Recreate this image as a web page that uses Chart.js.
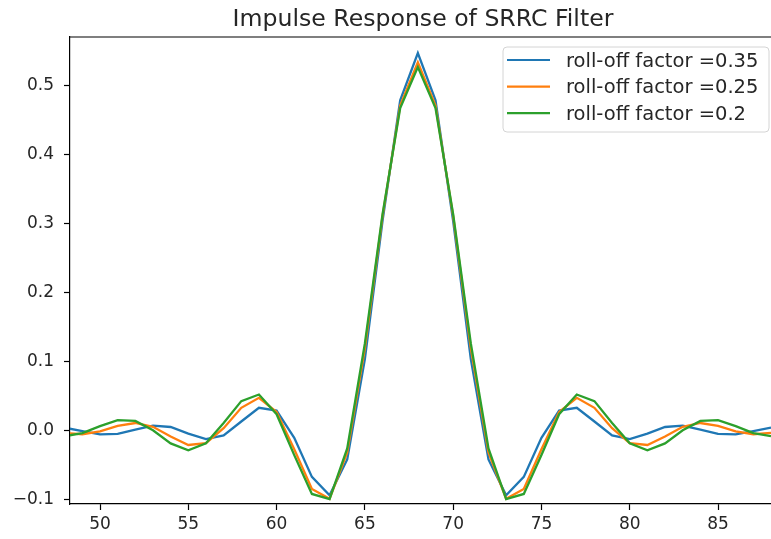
<!DOCTYPE html>
<html>
<head>
<meta charset="utf-8">
<script src="https://cdn.jsdelivr.net/npm/chart.js@4/dist/chart.umd.min.js"></script>
<style>
  html, body { margin: 0; padding: 0; background: #fff; overflow: hidden; }
  #wrap { width: 771px; height: 539px; position: relative; }
</style>
</head>
<body>
<div id="wrap"><canvas id="srrc_chart"></canvas></div>
<script>
// sample index (x axis)
var samples = [48, 49, 50, 51, 52, 53, 54, 55, 56, 57, 58, 59, 60, 61, 62, 63, 64, 65, 66, 67, 68,
               69, 70, 71, 72, 73, 74, 75, 76, 77, 78, 79, 80, 81, 82, 83, 84, 85, 86, 87, 88];

var rolloff_035 = [0.0038, -0.0012, -0.0058, -0.0051, 0.0010, 0.0067, 0.0048, -0.0048, -0.0127, -0.0074,
                   0.0128, 0.0327, 0.0286, -0.0110, -0.0676, -0.0943, -0.0423, 0.1034, 0.3039, 0.4790,
                   0.5478,
                   0.4790, 0.3039, 0.1034, -0.0423, -0.0943, -0.0676, -0.0110, 0.0286, 0.0327, 0.0128,
                   -0.0074, -0.0127, -0.0048, 0.0048, 0.0067, 0.0010, -0.0051, -0.0058, -0.0012, 0.0038];

var rolloff_025 = [-0.0038, -0.0057, -0.0015, 0.0064, 0.0106, 0.0050, -0.0091, -0.0213, -0.0188, 0.0030,
                   0.0326, 0.0471, 0.0265, -0.0275, -0.0851, -0.0994, -0.0321, 0.1189, 0.3109, 0.4716,
                   0.5342,
                   0.4716, 0.3109, 0.1189, -0.0321, -0.0994, -0.0851, -0.0275, 0.0265, 0.0471, 0.0326,
                   0.0030, -0.0188, -0.0213, -0.0091, 0.0050, 0.0106, 0.0064, -0.0015, -0.0057, -0.0038];

var rolloff_020 = [-0.0085, -0.0041, 0.0061, 0.0148, 0.0137, 0.0000, -0.0190, -0.0291, -0.0189, 0.0106,
                   0.0424, 0.0520, 0.0233, -0.0360, -0.0924, -0.1000, -0.0263, 0.1261, 0.3136, 0.4678,
                   0.5273,
                   0.4678, 0.3136, 0.1261, -0.0263, -0.1000, -0.0924, -0.0360, 0.0233, 0.0520, 0.0424,
                   0.0106, -0.0189, -0.0291, -0.0190, 0.0000, 0.0137, 0.0148, 0.0061, -0.0041, -0.0085];

var series_labels = ["roll-off factor =0.35", "roll-off factor =0.25", "roll-off factor =0.2"];
var series_colors = ["#1f77b4", "#ff7f0e", "#2ca02c"];

var x_ticks = [50, 55, 60, 65, 70, 75, 80, 85];
var y_ticks = [-0.1, 0.0, 0.1, 0.2, 0.3, 0.4, 0.5];
var y_tick_labels = ["\u22120.1", "0.0", "0.1", "0.2", "0.3", "0.4", "0.5"];

var chart_title = "Impulse Response of SRRC Filter";

var FONT = "'DejaVu Sans', sans-serif";
var TEXT_COLOR = "#262626";

function to_points(values) {
    return samples.map(function (s, i) { return { x: s, y: values[i] }; });
}

// title, top spine and the boxed legend, drawn the matplotlib way
var frame_plugin = {
    id: 'frame_plugin',
    afterDraw: function (chart) {
        var ctx = chart.ctx;
        var area = chart.chartArea;
        ctx.save();

        // top spine
        ctx.strokeStyle = "#000";
        ctx.lineWidth = 1.2;
        ctx.beginPath();
        ctx.moveTo(area.left - 0.6, area.top);
        ctx.lineTo(area.right, area.top);
        ctx.stroke();

        // title centred over the axes box (right spine sits just past the window)
        ctx.fillStyle = TEXT_COLOR;
        ctx.font = "23.6px " + FONT;
        ctx.textAlign = "center";
        ctx.textBaseline = "alphabetic";
        ctx.fillText(chart_title, 423, 25.5);

        // legend box
        var bx = 503, by = 47, bw = 266, bh = 85, r = 4;
        ctx.fillStyle = "rgba(255,255,255,0.8)";
        ctx.strokeStyle = "#d4d4d4";
        ctx.lineWidth = 1;
        ctx.beginPath();
        ctx.moveTo(bx + r, by);
        ctx.lineTo(bx + bw - r, by);
        ctx.arcTo(bx + bw, by, bx + bw, by + r, r);
        ctx.lineTo(bx + bw, by + bh - r);
        ctx.arcTo(bx + bw, by + bh, bx + bw - r, by + bh, r);
        ctx.lineTo(bx + r, by + bh);
        ctx.arcTo(bx, by + bh, bx, by + bh - r, r);
        ctx.lineTo(bx, by + r);
        ctx.arcTo(bx, by, bx + r, by, r);
        ctx.closePath();
        ctx.fill();
        ctx.stroke();

        ctx.font = "19.5px " + FONT;
        ctx.textAlign = "left";
        for (var i = 0; i < series_labels.length; i++) {
            var rowY = 60 + i * 26.6;
            ctx.strokeStyle = series_colors[i];
            ctx.lineWidth = 2.2;
            ctx.beginPath();
            ctx.moveTo(507, rowY);
            ctx.lineTo(550, rowY);
            ctx.stroke();
            ctx.fillStyle = TEXT_COLOR;
            ctx.fillText(series_labels[i], 566, rowY + 6.7);
        }
        ctx.restore();
    }
};

var datasets = [rolloff_035, rolloff_025, rolloff_020].map(function (vals, i) {
    return {
        label: series_labels[i],
        data: to_points(vals),
        borderColor: series_colors[i],
        backgroundColor: series_colors[i],
        borderWidth: 2.3,
        pointRadius: 0,
        tension: 0,
        fill: false,
        order: 3 - i   // green ends up on top, as in the original
    };
});

var srrc_chart = new Chart(document.getElementById('srrc_chart'), {
    type: 'line',
    data: { datasets: datasets },
    options: {
        responsive: true,
        maintainAspectRatio: false,
        animation: false,
        events: [],
        layout: { padding: { top: 37, left: 0, right: 0, bottom: 0 } },
        plugins: {
            legend: { display: false },
            title: { display: false },
            tooltip: { enabled: false }
        },
        scales: {
            x: {
                type: 'linear',
                min: 48.3,
                max: 88,
                afterBuildTicks: function (scale) {
                    scale.ticks = x_ticks.map(function (v) { return { value: v }; });
                },
                afterFit: function (scale) { scale.height = 35; },
                ticks: {
                    color: TEXT_COLOR,
                    font: { family: FONT, size: 17 },
                    padding: 4,
                    maxRotation: 0,
                    callback: function (value) { return String(value); }
                },
                grid: {
                    display: true,
                    drawOnChartArea: false,
                    drawTicks: true,
                    tickLength: 6,
                    tickColor: "#000",
                    tickWidth: 1.2
                },
                border: { display: true, color: "#000", width: 1.2 }
            },
            y: {
                type: 'linear',
                min: -0.107,
                max: 0.571,
                afterBuildTicks: function (scale) {
                    scale.ticks = y_ticks.map(function (v) { return { value: v }; });
                },
                afterFit: function (scale) { scale.width = 70; },
                ticks: {
                    color: TEXT_COLOR,
                    font: { family: FONT, size: 17 },
                    padding: 10,
                    callback: function (value) {
                        var idx = y_ticks.indexOf(value);
                        return idx >= 0 ? y_tick_labels[idx] : '';
                    }
                },
                grid: {
                    display: true,
                    drawOnChartArea: false,
                    drawTicks: true,
                    tickLength: 6,
                    tickColor: "#000",
                    tickWidth: 1.2
                },
                border: { display: true, color: "#000", width: 1.2 }
            }
        }
    },
    plugins: [frame_plugin]
});
</script>
</body>
</html>
